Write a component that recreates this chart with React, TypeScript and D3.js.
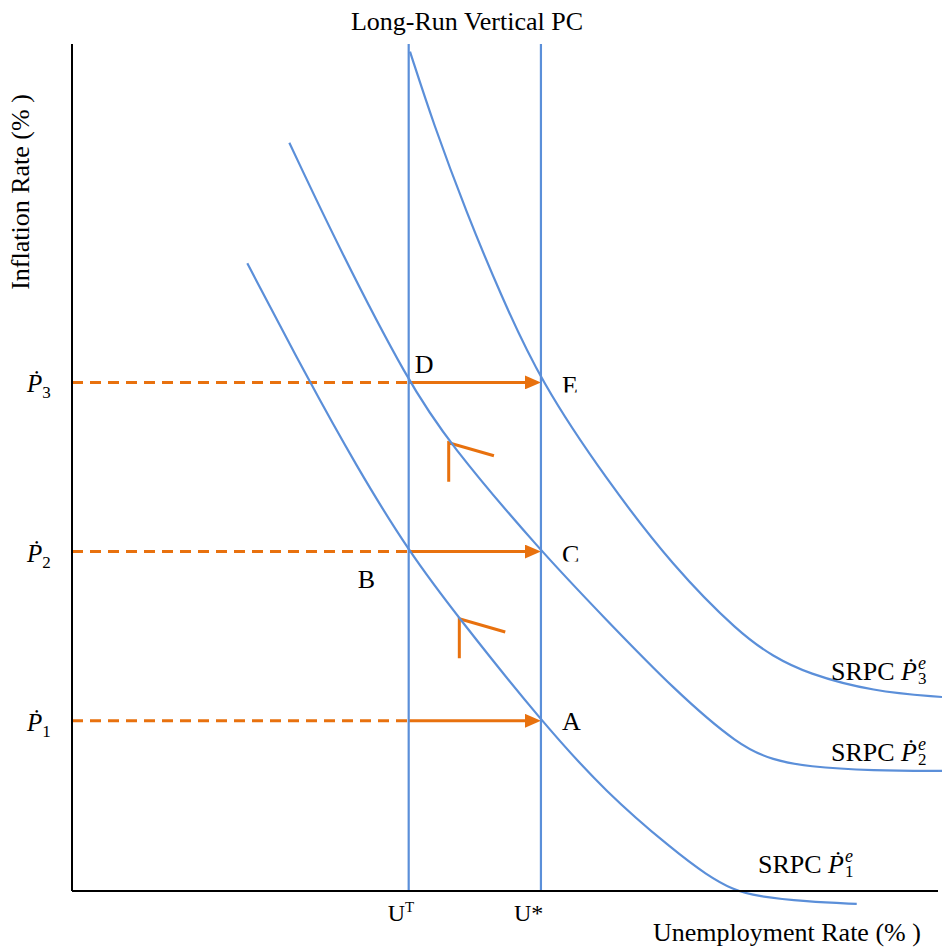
import React from "react";
import * as d3 from "d3";

const W = 942;
const H = 947;

// Curve data (unemployment %, inflation %) in chart units
const srpc1U = [20.15, 26.98, 32.72, 38.7, 44.52, 53.9, 61.46, 69.11, 72.95, 76.01, 78.7, 84.45, 90.2];
const srpc1P = [74.08, 60.67, 50.03, 40, 32.07, 20, 11.43, 4.73, 1.77, 0.0, -0.75, -1.38, -1.65];

const srpc2U = [24.98, 30.8, 38.7, 43.3, 53.9, 61.46, 69.11, 76.78, 80.6, 84.45, 92.1, 100];
const srpc2P = [88.33, 75.65, 60, 52.87, 40, 31.9, 23.76, 16.94, 15.37, 14.57, 14.1, 14.07];

const srpc3U = [38.85, 41.53, 45.37, 49.2, 53.9, 61.46, 69.11, 76.78, 80.6, 84.45, 92.1, 100];
const srpc3P = [99.09, 90.6, 80.0, 70.53, 60, 48.46, 38.2, 30.3, 27.6, 25.6, 23.44, 22.81];

const uTarget = 38.7; // U^T
const uNatural = 53.9; // U*
const pLevels = [20, 40, 60];
const pSubs = ["1", "2", "3"];

// shift arrows: corner point, tail bottom, diagonal end
const shiftCornerU = [43.3, 44.52];
const shiftCornerP = [52.87, 32.07];
const shiftTailP = [48.26, 27.38];
const shiftDiagU = [48.5, 49.8];
const shiftDiagP = [51.33, 30.5];

const pointNames = ["A", "B", "C", "D", "E"];
const pointU = [53.9, 38.7, 53.9, 38.7, 53.9];
const pointP = [20, 40, 40, 60, 60];

const srpcLabelSubs = ["1", "2", "3"];

const BLUE = "#5B8FD9";
const ORANGE = "#E8710E";
const FONT = "Liberation Serif, Times New Roman, serif";
const TXT: React.CSSProperties = { fontFamily: FONT };

export default function App() {
  const x = d3.scaleLinear().domain([0, 100]).range([72, 942]);
  const y = d3.scaleLinear().domain([0, 100]).range([890, 44]);

  const line = d3
    .line<[number, number]>()
    .x((d) => x(d[0]))
    .y((d) => y(d[1]))
    .curve(d3.curveBasis);

  const curves = [
    d3.zip(srpc1U, srpc1P) as [number, number][],
    d3.zip(srpc2U, srpc2P) as [number, number][],
    d3.zip(srpc3U, srpc3P) as [number, number][],
  ];

  // label offsets (layout)
  const ptOffsets: Record<string, [number, number]> = {
    A: [21, 9],
    B: [-51, 36],
    C: [21, 11],
    D: [6, -9],
    E: [21, 12],
  };
  const clipBottom: Record<string, number | null> = {
    A: null,
    B: null,
    C: 10,
    D: null,
    E: 10,
  };

  const srpcLabelPos: [number, number][] = [
    [758, 873],
    [831, 761],
    [831, 680],
  ];

  return (
    <svg width={W} height={H} style={{ display: "block", position: "absolute", left: 0, top: 0 }}>
      <defs>
        <marker
          id="ah"
          markerUnits="userSpaceOnUse"
          markerWidth={16}
          markerHeight={14}
          refX={8}
          refY={7}
          orient="auto"
        >
          <path d="M0,0 L16,7 L0,14 Z" fill={ORANGE} />
        </marker>
        {pointNames.map((n, i) =>
          clipBottom[n] != null ? (
            <clipPath id={`clip-${n}`} key={n}>
              <rect
                x={x(pointU[i]) - 10}
                y={y(pointP[i]) - 40}
                width={60}
                height={40 + (clipBottom[n] as number)}
              />
            </clipPath>
          ) : null
        )}
      </defs>
      <rect width={W} height={H} fill="#fff" />

      {/* Title */}
      <text x={467} y={30} fontSize={26} textAnchor="middle" fill="#000" style={TXT}>
        Long-Run Vertical PC
      </text>

      {/* Y-axis label */}
      <text
        transform={`translate(29,192) rotate(-90)`}
        fontSize={26}
        textAnchor="middle"
        fill="#000"
        style={TXT}
      >
        Inflation Rate (% )
      </text>

      {/* X-axis label */}
      <text x={653} y={941} fontSize={26} fill="#000" style={TXT}>
        Unemployment Rate (% )
      </text>

      {/* dashed lines */}
      {pLevels.map((p, i) => (
        <line
          key={`d${i}`}
          x1={x(0)}
          x2={x(uTarget)}
          y1={y(p)}
          y2={y(p)}
          stroke={ORANGE}
          strokeWidth={3}
          strokeDasharray="11 7"
        />
      ))}

      {/* horizontal arrows */}
      {pLevels.map((p, i) => (
        <line
          key={`a${i}`}
          x1={x(uTarget)}
          x2={x(uNatural) - 8}
          y1={y(p)}
          y2={y(p)}
          stroke={ORANGE}
          strokeWidth={3}
          markerEnd="url(#ah)"
        />
      ))}

      {/* shift arrows */}
      {shiftCornerU.map((u, i) => (
        <path
          key={`s${i}`}
          d={`M${x(u)},${y(shiftTailP[i])} L${x(u)},${y(shiftCornerP[i])} L${x(shiftDiagU[i])},${y(shiftDiagP[i])}`}
          fill="none"
          stroke={ORANGE}
          strokeWidth={3}
        />
      ))}

      {/* vertical lines */}
      {[uTarget, uNatural].map((u, i) => (
        <line
          key={`v${i}`}
          x1={x(u)}
          x2={x(u)}
          y1={y(100)}
          y2={y(0)}
          stroke={BLUE}
          strokeWidth={2.2}
        />
      ))}

      {/* SRPC curves */}
      {curves.map((c, i) => (
        <path key={`c${i}`} d={line(c) || ""} fill="none" stroke={BLUE} strokeWidth={2.2} />
      ))}

      {/* Axes */}
      <line x1={x(0)} x2={x(0)} y1={y(100)} y2={y(0) + 1} stroke="#000" strokeWidth={2} />
      <line x1={x(0)} x2={938} y1={y(0) + 1} y2={y(0) + 1} stroke="#000" strokeWidth={2} />

      {/* x tick labels */}
      <text x={x(uTarget) - 21} y={921} fontSize={24} fill="#000" style={TXT}>
        U
        <tspan fontSize={15} dy={-9}>
          T
        </tspan>
      </text>
      <text x={x(uNatural) - 27} y={921} fontSize={24} fill="#000" style={TXT}>
        U*
      </text>

      {/* y tick labels */}
      {pLevels.map((p, i) => (
        <text key={`pl${i}`} x={27} y={y(p) + 10} fontSize={25} fontStyle="italic" fill="#000" style={TXT}>
          Ṗ
          <tspan fontStyle="normal" fontSize={17} dy={6}>
            {pSubs[i]}
          </tspan>
        </text>
      ))}

      {/* point labels */}
      {pointNames.map((n, i) => (
        <text
          key={`pt${n}`}
          x={x(pointU[i]) + ptOffsets[n][0]}
          y={y(pointP[i]) + ptOffsets[n][1]}
          fontSize={26}
          fill="#000"
          style={TXT}
          clipPath={clipBottom[n] != null ? `url(#clip-${n})` : undefined}
        >
          {n}
        </text>
      ))}

      {/* SRPC labels */}
      {srpcLabelSubs.map((s, i) => (
        <text key={`sl${i}`} x={srpcLabelPos[i][0]} y={srpcLabelPos[i][1]} fontSize={26} fill="#000" style={TXT}>
          SRPC{" "}
          <tspan fontStyle="italic">Ṗ</tspan>
          <tspan fontStyle="italic" fontSize={18} dx={1} dy={-11}>
            e
          </tspan>
          <tspan fontSize={17} dx={-8} dy={15}>
            {s}
          </tspan>
        </text>
      ))}
    </svg>
  );
}
